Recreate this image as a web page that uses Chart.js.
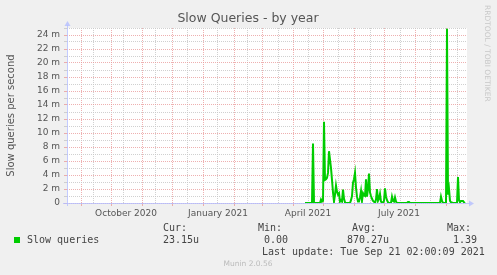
<!DOCTYPE html>
<html>
<head>
<meta charset="UTF-8">
<title>Slow Queries - by year</title>
<script src="https://cdn.jsdelivr.net/npm/chart.js"></script>
<style>
  html, body { margin: 0; padding: 0; background: #f0f0f0; }
  .wrap { width: 497px; height: 275px; position: relative; }
</style>
</head>
<body>
<div class="wrap"><canvas id="slowChart"></canvas></div>
<script>
// x values are days counted from 1 Sep 2020, window ends 21 Sep 2021
const dayOffsets = [224, 231, 232, 233, 239, 240, 241, 242, 243, 244, 245, 246, 247, 248, 249, 250,
  251, 252, 253, 254, 255, 256, 257, 258, 259, 260, 261, 262, 263, 264, 265, 269, 270, 271, 272, 273,
  274, 275, 276, 277, 278, 279, 280, 281, 282, 283, 284, 285, 286, 287, 288, 289, 290, 291, 292, 293,
  294, 295, 296, 297, 298, 299, 300, 301, 302, 303, 304, 305, 306, 307, 308, 310, 311, 312, 313, 314,
  315, 316, 326, 327, 328, 329, 359, 360, 361, 362, 365, 366, 367, 368, 369, 370, 372, 376, 377, 378,
  379, 380, 381, 382, 383, 384];
// slow queries per second, in milli units
const slowQueries = [0, 0, 8.5, 0, 0, 0.5, 0.2, 0.3, 11.6, 3.3, 3.4, 3.6, 4.3, 7.4, 6.2, 5.0,
  3.3, 1.5, 0.2, 1.2, 2.5, 1.6, 1.2, 1.4, 0.2, 0.4, 0.2, 1.9, 0.6, 0.1, 0, 0, 0.4, 1.0, 2.9, 3.4,
  4.3, 2.2, 0.9, 0.2, 0.2, 0.8, 1.7, 0.3, 1.4, 1.1, 1.0, 3.4, 0.9, 2.0, 4.2, 1.5, 1.0, 0.6, 0.3, 0.2,
  0, 0.5, 2.0, 0.3, 0.6, 1.3, 0.2, 0.1, 0, 0.3, 2.1, 0.9, 0.4, 0.1, 0, 0, 0.9, 0.3, 0.2, 0.8,
  0.2, 0, 0, 0.15, 0.15, 0, 0, 0.9, 0.3, 0, 0, 24.9, 1.2, 2.0, 0.3, 0.1, 0, 0, 3.7, 0.4,
  0.1, 0.3, 0.3, 0.3, 0.1, 0];

const monthStarts = [0, 30, 61, 91, 122, 153, 181, 212, 242, 273, 303, 334, 365];
const minorDays = [12, 42, 74, 106, 136, 166, 197, 227, 257, 289, 319, 349, 376];
const labelDays = [45, 137, 227, 318];
const monthLabels = ['October 2020', 'January 2021', 'April 2021', 'July 2021'];
const yMax = 25;

const RED = 'rgba(232,150,150,0.75)';
const GREY = 'rgba(200,200,200,0.85)';
const AXIS = 'rgba(180,190,255,0.8)';

const muninDecor = {
  id: 'muninDecor',
  beforeDraw(chart) {
    const { ctx, chartArea: a } = chart;
    ctx.save();
    ctx.fillStyle = '#f0f0f0';
    ctx.fillRect(0, 0, chart.width, chart.height);
    ctx.fillStyle = '#ffffff';
    ctx.fillRect(a.left, a.top, a.right - a.left, a.bottom - a.top);
    ctx.restore();
  },
  beforeDatasetsDraw(chart) {
    const { ctx, chartArea: a } = chart;
    ctx.save();
    ctx.strokeStyle = AXIS;
    ctx.fillStyle = AXIS;
    ctx.lineWidth = 1;
    ctx.beginPath();
    ctx.moveTo(a.left - 4, a.bottom + 0.5);
    ctx.lineTo(a.right + 3, a.bottom + 0.5);
    ctx.moveTo(a.left + 0.5, a.bottom + 3);
    ctx.lineTo(a.left + 0.5, a.top - 3);
    ctx.stroke();
    ctx.beginPath();
    ctx.moveTo(a.right + 7, a.bottom + 0.5);
    ctx.lineTo(a.right + 2, a.bottom - 2.5);
    ctx.lineTo(a.right + 2, a.bottom + 3.5);
    ctx.closePath();
    ctx.fill();
    ctx.beginPath();
    ctx.moveTo(a.left + 0.5, a.top - 7);
    ctx.lineTo(a.left - 2.5, a.top - 2);
    ctx.lineTo(a.left + 3.5, a.top - 2);
    ctx.closePath();
    ctx.fill();
    ctx.restore();
  },
  afterDraw(chart) {
    const ctx = chart.ctx;
    ctx.save();
    ctx.textBaseline = 'middle';
    // title
    ctx.font = '12.5px "DejaVu Sans"';
    ctx.fillStyle = '#555';
    ctx.textAlign = 'center';
    ctx.fillText('Slow Queries - by year', 248, 19);
    // rrdtool credit
    ctx.save();
    ctx.translate(487, 5);
    ctx.rotate(Math.PI / 2);
    ctx.font = '7.5px "DejaVu Sans"';
    ctx.fillStyle = '#c8c8c8';
    ctx.textAlign = 'left';
    ctx.fillText('RRDTOOL / TOBI OETIKER', 0, 0);
    ctx.restore();
    // legend
    ctx.fillStyle = '#00cc00';
    ctx.fillRect(14, 237, 6, 6);
    ctx.font = '10px "DejaVu Sans Mono"';
    ctx.fillStyle = '#444';
    ctx.textAlign = 'left';
    ctx.fillText('Slow queries', 27, 240);
    ctx.fillText('Cur:', 163, 228);
    ctx.fillText('23.15u', 163, 240);
    ctx.fillText('Min:', 258, 228);
    ctx.fillText('0.00', 264, 240);
    ctx.fillText('Avg:', 352, 228);
    ctx.fillText('870.27u', 347, 240);
    ctx.fillText('Max:', 447, 228);
    ctx.fillText('1.39', 453, 240);
    ctx.fillText('Last update: Tue Sep 21 02:00:09 2021', 262, 252);
    ctx.font = '7.5px "DejaVu Sans"';
    ctx.fillStyle = '#bbb';
    ctx.textAlign = 'center';
    ctx.fillText('Munin 2.0.56', 248, 264);
    ctx.restore();
  }
};

new Chart(document.getElementById('slowChart'), {
  type: 'line',
  data: {
    datasets: [{
      label: 'Slow queries',
      data: dayOffsets.map((d, i) => ({ x: d, y: slowQueries[i] })),
      borderColor: '#00cc00',
      borderWidth: 2,
      pointRadius: 0,
      tension: 0,
      fill: false,
      xAxisID: 'x',
      yAxisID: 'y'
    }]
  },
  options: {
    responsive: true,
    maintainAspectRatio: false,
    animation: false,
    events: [],
    layout: { padding: { top: 28, right: 30, left: 0, bottom: 0 } },
    plugins: { legend: { display: false }, tooltip: { enabled: false } },
    scales: {
      x: {
        type: 'linear',
        position: 'bottom',
        min: -14,
        max: 386,
        weight: 0,
        afterBuildTicks: s => {
          s.ticks = monthStarts.concat(minorDays).map(v => ({ value: v }));
        },
        afterFit: s => { s.height = 4; },
        ticks: { display: false },
        border: { display: false, dash: [1, 1] },
        grid: {
          color: c => monthStarts.includes(c.tick.value) ? RED : GREY,
          tickColor: c => monthStarts.includes(c.tick.value) ? RED : 'rgba(0,0,0,0)',
          tickLength: 3,
          lineWidth: 1
        }
      },
      xLabels: {
        type: 'linear',
        position: 'bottom',
        min: -14,
        max: 386,
        weight: 1,
        afterBuildTicks: s => {
          s.ticks = labelDays.map(v => ({ value: v }));
        },
        afterFit: s => { s.height = 68; },
        grid: { display: false, drawTicks: false },
        border: { display: false },
        ticks: {
          autoSkip: false,
          maxRotation: 0,
          padding: 1,
          color: '#555',
          font: { family: 'DejaVu Sans', size: 9 },
          callback: (v, i) => monthLabels[i]
        }
      },
      y: {
        min: 0,
        max: yMax,
        afterFit: s => { s.width = 67; },
        ticks: {
          stepSize: 1,
          autoSkip: false,
          padding: 4,
          color: '#555',
          font: { family: 'DejaVu Sans', size: 9 },
          callback: v => v % 2 === 0 ? (v === 0 ? '0' : v + ' m') : ''
        },
        border: { display: false, dash: [1, 1] },
        grid: {
          color: c => c.tick.value % 2 === 0 ? RED : GREY,
          tickColor: c => c.tick.value % 2 === 0 ? RED : GREY,
          tickLength: 3,
          lineWidth: 1
        },
        title: {
          display: true,
          text: 'Slow queries per second',
          color: '#555',
          font: { family: 'DejaVu Sans', size: 10 },
          padding: { top: 5, bottom: 0 }
        }
      }
    }
  },
  plugins: [muninDecor]
});
</script>
</body>
</html>
